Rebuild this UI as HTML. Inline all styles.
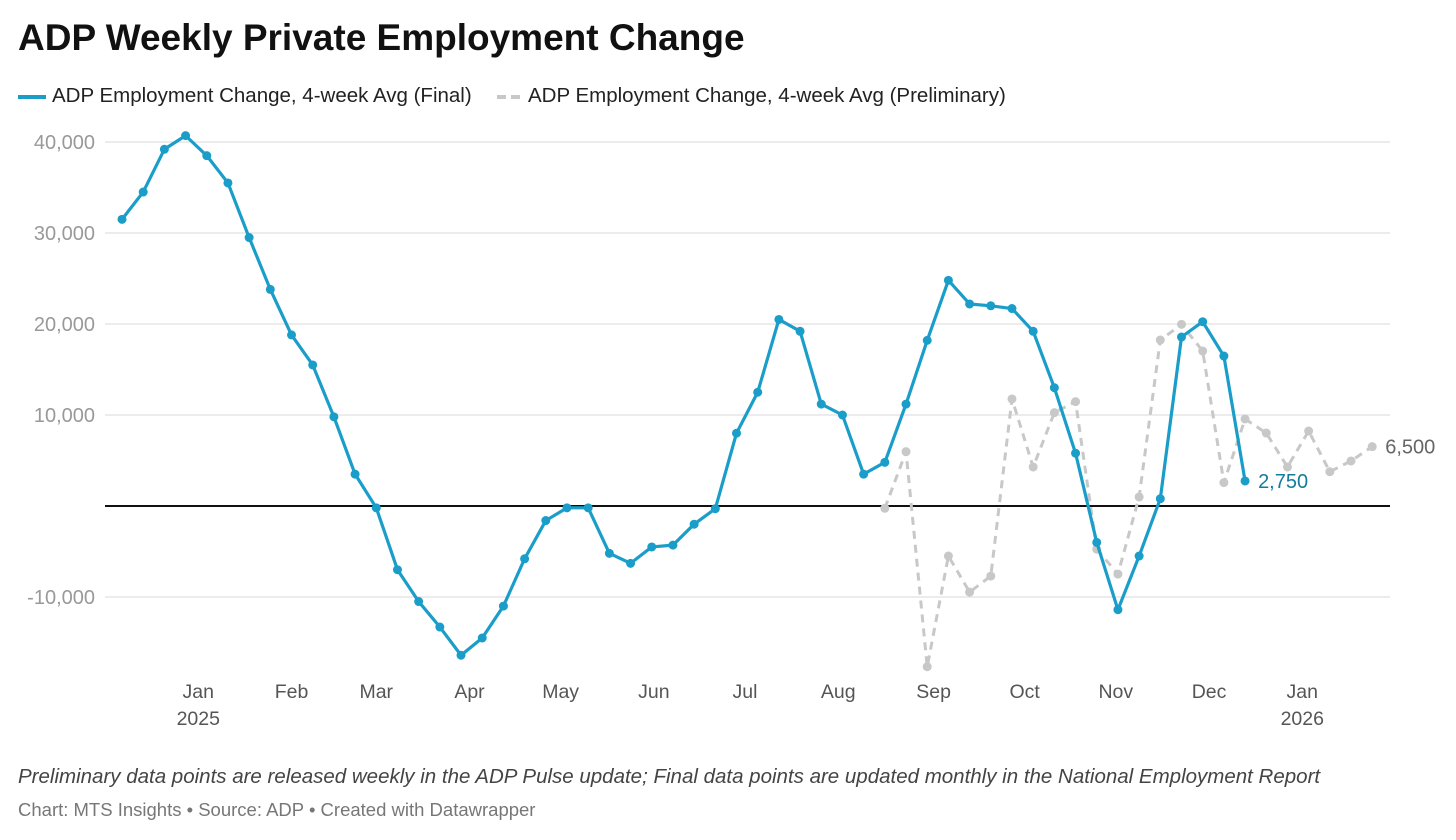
<!DOCTYPE html>
<html><head><meta charset="utf-8"><style>
body{margin:0;background:#fff;width:1456px;height:840px;overflow:hidden;font-family:"Liberation Sans",sans-serif}
#title{position:absolute;left:18px;top:17px;font-size:37px;font-weight:bold;color:#111;letter-spacing:0px}
.leg{position:absolute;top:84px;font-size:20.5px;color:#222}
#note{position:absolute;left:18px;top:765px;font-size:20.5px;font-style:italic;color:#444}
#src{position:absolute;left:18px;top:799px;font-size:18.5px;color:#777}
svg{position:absolute;left:0;top:0}
</style></head><body>
<div id="title">ADP Weekly Private Employment Change</div>
<div class="leg" style="left:18px"><span style="display:inline-block;width:28px;height:4px;background:#1a9ec9;vertical-align:middle;margin-right:6px"></span>ADP Employment Change, 4-week Avg (Final)</div>
<div class="leg" style="left:497px"><span style="display:inline-block;width:9px;height:4px;background:#c8c8c8;vertical-align:middle;margin-right:5px"></span><span style="display:inline-block;width:9px;height:4px;background:#c8c8c8;vertical-align:middle;margin-right:8px"></span>ADP Employment Change, 4-week Avg (Preliminary)</div>
<div id="note">Preliminary data points are released weekly in the ADP Pulse update; Final data points are updated monthly in the National Employment Report</div>
<div id="src">Chart: MTS Insights • Source: ADP • Created with Datawrapper</div>
<svg id="chart" width="1456" height="840"></svg>
<script>
const finalValues=[31500,34500,39200,40700,38500,35500,29500,23800,18800,15500,9800,3500,-200,-7000,-10500,-13300,-16400,-14500,-11000,-5800,-1600,-200,-200,-5200,-6300,-4500,-4300,-2000,-300,8000,12500,20500,19200,11200,10000,3500,4800,11200,18200,24800,22200,22000,21700,19200,13000,5800,-4000,-11400,-5500,800,18570,20250,16480,2750];
const prelimStart=36;
const prelimValues=[-250,5970,-17660,-5500,-9460,-7700,11760,4290,10260,11470,-4750,-7480,990,18240,19960,17030,2570,9560,8020,4290,8240,3770,4950,6520];
const yTicks=[40000,30000,20000,10000,0,-10000];
const yTickLabels=["40,000","30,000","20,000","10,000","0","-10,000"];
const monthLabels=["Jan","Feb","Mar","Apr","May","Jun","Jul","Aug","Sep","Oct","Nov","Dec","Jan"];
const monthWeekPos=[3.6,8,12,16.4,20.7,25.1,29.4,33.8,38.3,42.6,46.9,51.3,55.7];
const yearLabels=["2025","","","","","","","","","","","","2026"];

const NS="http://www.w3.org/2000/svg";
const svg=document.getElementById('chart');
const x=i=>122+i*21.19;
const y=v=>506-v*0.0091;
function mk(t,a){const e=document.createElementNS(NS,t);for(const k in a)e.setAttribute(k,a[k]);svg.appendChild(e);return e;}
yTicks.forEach((v,i)=>{
  const l=mk('line',{x1:105,x2:1390,y1:y(v),y2:y(v),stroke:v===0?'#111':'#e0e0e0','stroke-width':v===0?2:1.2});
  
  
  if(v!==0){const t=mk('text',{x:95,y:y(v)+7,'text-anchor':'end','font-size':20,fill:'#999'});t.textContent=yTickLabels[i];
  
  }
});
monthLabels.forEach((m,i)=>{
  const t=mk('text',{x:x(monthWeekPos[i]),y:698,'text-anchor':'middle','font-size':19.5,fill:'#555'});t.textContent=m;
  
  
  if(yearLabels[i]){const t2=mk('text',{x:x(monthWeekPos[i]),y:725,'text-anchor':'middle','font-size':19.5,fill:'#555'});t2.textContent=yearLabels[i];
  
  }
});
const pp=prelimValues.map((v,i)=>x(prelimStart+i)+','+y(v)).join(' ');
const pl=mk('polyline',{points:pp,fill:'none',stroke:'#c8c8c8','stroke-width':3,'stroke-dasharray':'8,6'});


prelimValues.forEach((v,i)=>{const c=mk('circle',{cx:x(prelimStart+i),cy:y(v),r:4.5,fill:'#c8c8c8'});

});
const fp=finalValues.map((v,i)=>x(i)+','+y(v)).join(' ');
const fl=mk('polyline',{points:fp,fill:'none',stroke:'#1a9ec9','stroke-width':3.2,'stroke-linejoin':'round'});


finalValues.forEach((v,i)=>{const c=mk('circle',{cx:x(i),cy:y(v),r:4.5,fill:'#1a9ec9'});

});
const lf=finalValues.length-1;
const a=mk('text',{x:x(lf)+13,y:y(finalValues[lf])+7,'font-size':20,fill:'#137c9e'});a.textContent='2,750';


const lp=prelimValues.length-1;
const b=mk('text',{x:x(prelimStart+lp)+13,y:y(prelimValues[lp])+7,'font-size':20,fill:'#666'});b.textContent='6,500';


</script>
</body></html>
